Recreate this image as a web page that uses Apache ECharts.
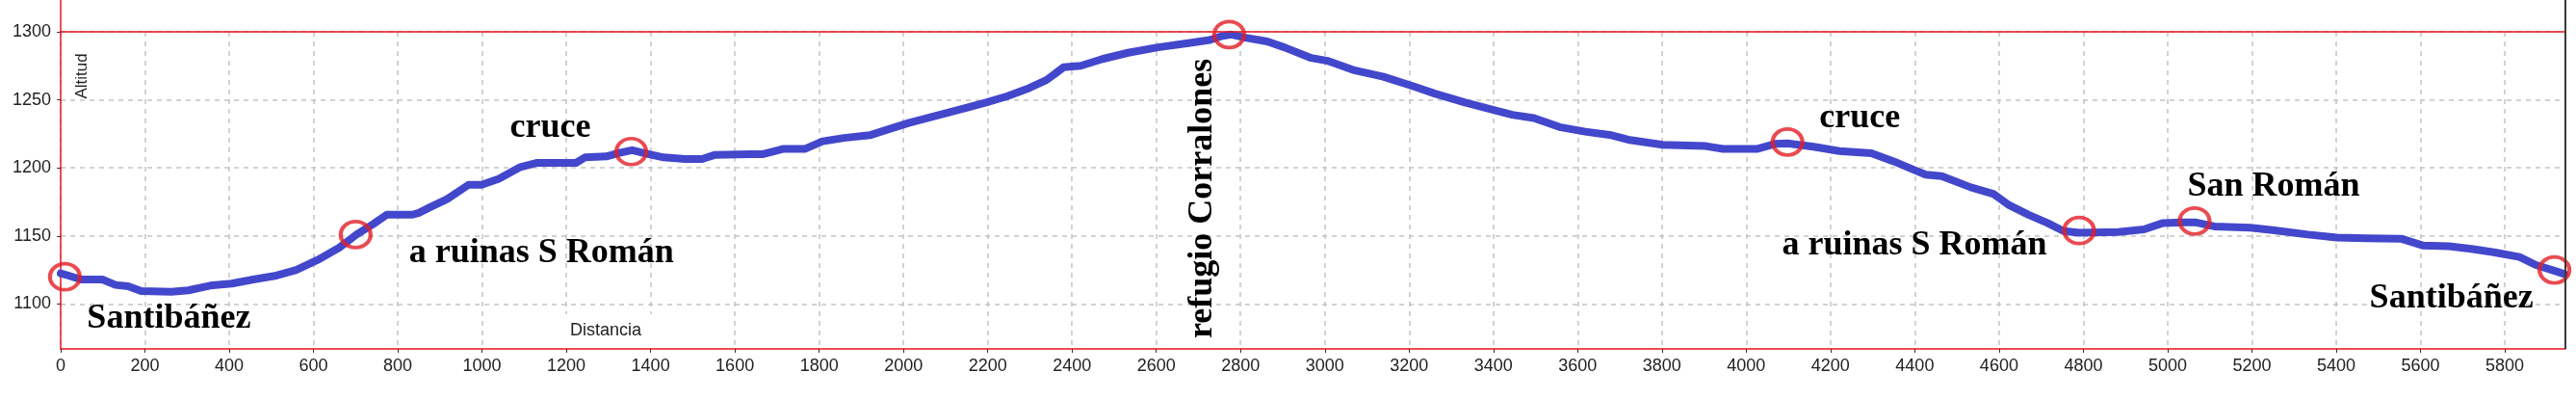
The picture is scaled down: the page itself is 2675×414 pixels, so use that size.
<!DOCTYPE html>
<html>
<head>
<meta charset="utf-8">
<script src="https://cdn.jsdelivr.net/npm/echarts@6/dist/echarts.min.js"></script>
<style>html,body{margin:0;padding:0;background:#fff}#c{width:2675px;height:414px}</style>
</head>
<body>
<div id="c"></div>
<script>
const distances = [0, 17, 48, 99, 130, 160, 191, 263, 303, 355, 406, 457, 508, 559, 610, 661, 702, 743, 774, 835,
  850, 876, 917, 968, 999, 1040, 1091, 1131, 1223, 1244, 1295, 1326, 1356, 1397, 1431, 1482, 1522, 1553, 1635, 1665,
  1716, 1767, 1808, 1859, 1920, 1961, 2012, 2073, 2145, 2196, 2247, 2298, 2339, 2359, 2380, 2421, 2472, 2533, 2604, 2676,
  2727, 2757, 2778, 2812, 2863, 2904, 2965, 3006, 3067, 3139, 3210, 3261, 3333, 3394, 3445, 3496, 3557, 3618, 3680, 3720,
  3802, 3904, 3945, 4027, 4068, 4098, 4160, 4221, 4297, 4350, 4396, 4426, 4464, 4533, 4586, 4624, 4670, 4715, 4753, 4791,
  4883, 4944, 4989, 5035, 5065, 5111, 5196, 5249, 5333, 5402, 5470, 5554, 5607, 5668, 5721, 5774, 5835, 5874, 5912, 5942];
const altitudes = [1122.5, 1121, 1118, 1118, 1114, 1113, 1109.5, 1109, 1110, 1113.5, 1115, 1118, 1120.6, 1125, 1132.4, 1141.4, 1151, 1159, 1165.6, 1165.6,
  1167, 1171, 1177, 1187.6, 1187.6, 1192, 1200.6, 1203.7, 1203.7, 1207.7, 1208.4, 1211, 1213, 1210, 1207.7, 1206.5, 1206.5, 1209.6, 1210, 1210,
  1214, 1214, 1219.5, 1222, 1224, 1228, 1233, 1238, 1243.7, 1248, 1252.7, 1258.6, 1264.5, 1269, 1274, 1275, 1280, 1284.6, 1288.6, 1291.7,
  1294, 1297, 1298, 1295.7, 1292.9, 1288.6, 1281, 1278.7, 1272, 1267, 1260, 1254.6, 1248, 1243, 1239, 1236.6, 1230, 1226.6, 1224, 1220.7,
  1217, 1216, 1214, 1214, 1217.6, 1218, 1215.5, 1212.4, 1210.7, 1204.8, 1198.8, 1195, 1194, 1185.7, 1181, 1172.6, 1165.5, 1159.5, 1153.6, 1152.4,
  1152.9, 1154.8, 1159.5, 1160, 1160, 1157, 1156, 1154.3, 1151, 1148.8, 1148.3, 1148, 1142.9, 1142.4, 1140.5, 1138, 1134.5, 1128.6, 1125, 1122];

const xTicks = [0, 200, 400, 600, 800, 1000, 1200, 1400, 1600, 1800, 2000, 2200, 2400, 2600, 2800, 3000,
  3200, 3400, 3600, 3800, 4000, 4200, 4400, 4600, 4800, 5000, 5200, 5400, 5600, 5800];
const yTicks = [1100, 1150, 1200, 1250, 1300];

// Waypoints (red circles)
const markerDist = [10, 700, 1354, 2773, 4098, 4790, 5064, 5918];
const markerAlt = [1120, 1151, 1212, 1298, 1219, 1154, 1161, 1125];
const markerNames = ['Santibáñez', 'a ruinas S Román', 'cruce', 'refugio Corralones', 'cruce', 'a ruinas S Román', 'San Román', 'Santibáñez'];

const X_MIN = 0, X_MAX = 5944, Y_MIN = 1067, Y_MAX = 1300;
const RED = '#e8141c';

const chart = echarts.init(document.getElementById('c'), null, {renderer: 'canvas'});
const gridLine = {show: true, lineStyle: {color: '#c4c4c4', type: [5, 5], width: 1.5}};
const tickLabel = {color: '#222', fontSize: 18, fontFamily: '"Liberation Sans", Arial, sans-serif', formatter: v => String(v)};

chart.setOption({
  animation: false,
  grid: {left: 63, right: 11, top: 33, bottom: 52, containLabel: false},
  xAxis: {
    type: 'value', min: X_MIN, max: X_MAX,
    axisLine: {show: true, onZero: false, lineStyle: {color: RED, width: 1.5}},
    axisTick: {show: true, customValues: xTicks, length: 4, lineStyle: {color: '#333', width: 1}},
    axisLabel: Object.assign({customValues: xTicks, margin: 9}, tickLabel),
    splitLine: gridLine
  },
  yAxis: {
    type: 'value', min: Y_MIN, max: Y_MAX,
    axisLine: {show: true, onZero: false, lineStyle: {color: RED, width: 1.5}},
    axisTick: {show: true, customValues: yTicks, length: 4, lineStyle: {color: '#333', width: 1}},
    axisLabel: Object.assign({customValues: yTicks, margin: 10}, tickLabel),
    splitLine: gridLine
  },
  series: [
    {
      type: 'line',
      data: distances.map((d, i) => [d, altitudes[i]]),
      showSymbol: false,
      symbol: 'none',
      lineStyle: {color: '#4347cc', width: 8, cap: 'round', join: 'round'},
      z: 3,
      markLine: {
        silent: true, symbol: ['none', 'none'], label: {show: false},
        lineStyle: {color: RED, type: 'solid', width: 1.5},
        data: [{yAxis: 1300}]
      }
    },
    {
      type: 'scatter',
      data: markerDist.map((d, i) => [d, markerAlt[i]]),
      symbol: 'circle',
      symbolSize: [31, 27],
      itemStyle: {color: 'rgba(0,0,0,0)', borderColor: '#e41e26', borderWidth: 4},
      z: 5
    }
  ]
});

const px = (x, y) => chart.convertToPixel({gridIndex: 0}, [x, y]);
const tl = px(X_MIN, Y_MAX), br = px(X_MAX, Y_MIN);
const offsets = [[108, 44], [193, 19], [-84, -25], [-28, 170], [75, -25], [-171, 16], [82, -36], [-107, 30]];
const rotations = [0, 0, 0, Math.PI / 2, 0, 0, 0, 0];
const annFont = 'bold 36px "Liberation Serif", "Times New Roman", serif';

const graphics = [
  {type: 'line', z: 50, shape: {x1: tl[0], y1: 0, x2: tl[0], y2: tl[1]}, style: {stroke: RED, lineWidth: 1.5}},
  {type: 'line', z: 50, shape: {x1: br[0], y1: 0, x2: br[0], y2: br[1]}, style: {stroke: '#3a3a3a', lineWidth: 2}},
  {type: 'text', z: 50, x: 85, y: 79, rotation: Math.PI / 2,
   style: {text: 'Altitud', font: '17px "Liberation Sans", Arial, sans-serif', fill: '#222', align: 'center', verticalAlign: 'middle', textAlign: 'center', textVerticalAlign: 'middle'}},
  {type: 'text', z: 50, x: 585, y: 326,
   style: {text: 'Distancia', font: '18px "Liberation Sans", Arial, sans-serif', fill: '#222', backgroundColor: '#fff', padding: [8, 12, 9, 7]}}
];
markerNames.forEach((name, i) => {
  const p = px(markerDist[i], markerAlt[i]);
  graphics.push({
    type: 'text', z: 60,
    x: p[0] + offsets[i][0], y: p[1] + offsets[i][1], rotation: rotations[i],
    style: {text: name, font: annFont, fill: '#000', align: 'center', verticalAlign: 'middle', textAlign: 'center', textVerticalAlign: 'middle'}
  });
});
chart.setOption({graphic: graphics});
</script>
</body>
</html>
